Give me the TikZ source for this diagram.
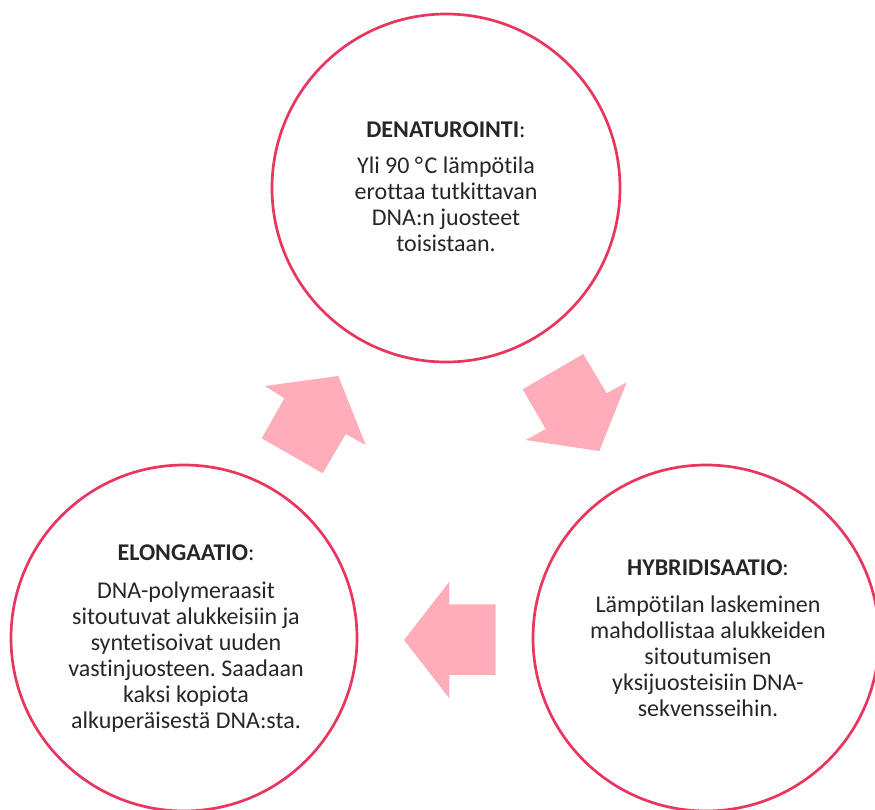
\documentclass[tikz,border=0pt]{standalone}
\usepackage{fontspec}
\setmainfont[Ligatures={NoCommon,NoRare,NoContextual}]{Carlito}
\frenchspacing
\definecolor{ringred}{HTML}{E8365E}
\definecolor{arrowpink}{HTML}{FFADB8}
\definecolor{txt}{HTML}{262626}
\begin{document}
\begin{tikzpicture}[x=1pt,y=-1pt,
  ring/.style={circle,draw=ringred,line width=2.7pt,inner sep=0pt,minimum size=#1},
  headtxt/.style={anchor=base,inner sep=0pt,text=txt,font=\fontsize{24}{26}\selectfont},
  bodytxt/.style={anchor=north,inner sep=0pt,align=center,text=txt,font=\fontsize{24}{26}\selectfont},
  blockarrow/.style={fill=arrowpink,draw=none}]
\useasboundingbox (0,0) rectangle (875,809);
% circles
\node[ring=348pt] (den) at (446,188) {};
\node[ring=346pt] (elo) at (184,638) {};
\node[ring=346pt] (hyb) at (706,638) {};
% texts
\node[headtxt] (denh) at (446,137) {\textbf{DENATUROINTI}:};
\node[bodytxt] (denb) at (446,173-18.2) {\strut Yli 90 °\kern1.5pt C lämpötila\\erottaa tutkittavan\\DNA:n juosteet\\toisistaan.};
\node[headtxt] (eloh) at (186,560) {\textbf{ELONGAATIO}:};
\node[bodytxt] (elob) at (186,598-18.2) {\strut DNA-polymeraasit\\sitoutuvat alukkeisiin ja\\syntetisoivat uuden\\vastinjuosteen. Saadaan\\kaksi kopiota\\alkuperäisestä DNA:sta.};
\node[headtxt] (hybh) at (708,575) {\textbf{HYBRIDISAATIO}:};
\node[bodytxt] (hybb) at (708,612-18.2) {\strut Lämpötilan laskeminen\\mahdollistaa alukkeiden\\sitoutumisen\\yksijuosteisiin DNA-\\sekvensseihin.};
% block arrows
\fill[blockarrow] (338.3,376) -- (365.7,445) -- (345.7,434) -- (322.7,473.3) -- (261.7,438.3) -- (284.3,398.3) -- (265,386) -- cycle;
\fill[blockarrow] (583.3,354) -- (606.7,393.3) -- (626.7,382.3) -- (599.3,451) -- (525.7,440) -- (545.7,429) -- (522.7,389.3) -- cycle;
\fill[blockarrow] (404,640) -- (449.3,581.7) -- (449.3,604.3) -- (495.7,604.3) -- (495.7,675) -- (449.3,675) -- (449.3,698.3) -- cycle;
\end{tikzpicture}
\end{document}
